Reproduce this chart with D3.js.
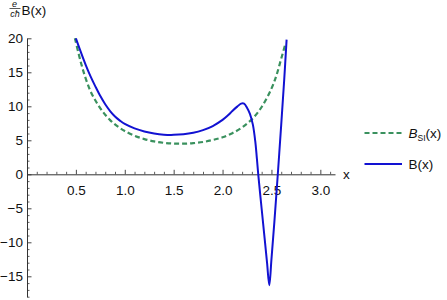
<!DOCTYPE html>
<html>
<head>
<meta charset="utf-8">
<script src="https://cdn.jsdelivr.net/npm/d3@7"></script>
<style>
  html, body { margin: 0; padding: 0; background: #fff; }
  svg { display: block; font-family: "Liberation Sans", Arial, sans-serif; }
</style>
</head>
<body>
<svg id="chart" width="447" height="300"></svg>
<script>
// ---- data ----
const bsiX = [0.49, 0.55, 0.6, 0.65, 0.7, 0.75, 0.8, 0.85, 0.9, 0.95, 1.0, 1.1, 1.2, 1.3, 1.4, 1.5, 1.6, 1.7, 1.8, 1.9, 2.0, 2.1, 2.2, 2.3, 2.4, 2.5, 2.55, 2.6, 2.645];
const bsiY = [20.0, 16.5, 14.1, 12.2, 10.85, 9.7, 8.75, 7.97, 7.33, 6.8, 6.36, 5.67, 5.18, 4.84, 4.63, 4.52, 4.5, 4.58, 4.75, 5.05, 5.45, 6.05, 6.9, 8.1, 9.9, 12.6, 14.5, 17.0, 19.3];

const bX = [0.5, 0.55, 0.6, 0.65, 0.7, 0.75, 0.8, 0.85, 0.9, 0.95, 1.0, 1.1, 1.2, 1.3, 1.4, 1.5, 1.6, 1.7, 1.8, 1.9, 2.0, 2.05, 2.1, 2.15, 2.19, 2.22, 2.25, 2.28, 2.31, 2.335, 2.35, 2.365, 2.4, 2.43, 2.455, 2.478, 2.5, 2.53, 2.565, 2.6, 2.63, 2.655];
const bY = [20.0, 18.0, 16.1, 14.4, 12.9, 11.5, 10.3, 9.3, 8.5, 7.9, 7.4, 6.75, 6.3, 6.0, 5.83, 5.8, 5.88, 6.1, 6.5, 7.1, 8.0, 8.6, 9.3, 9.95, 10.4, 10.4, 9.8, 8.9, 7.3, 4.8, 2.5, 0.0, -5.1, -9.4, -13.0, -16.3, -12.5, -7.0, 0.0, 7.3, 13.8, 19.8];

const xMajorTicks = [0.5, 1.0, 1.5, 2.0, 2.5, 3.0];
const xTickLabels = ["0.5", "1.0", "1.5", "2.0", "2.5", "3.0"];
const yMajorTicks = [-15, -10, -5, 0, 5, 10, 15, 20];
const yTickLabels = ["\u221215", "\u221210", "\u22125", "0", "5", "10", "15", "20"];
const xMinorTicks = d3.range(1, 32).map(i => i / 10).filter(v => Math.abs(v * 2 - Math.round(v * 2)) > 1e-6);
const yMinorTicks = d3.range(-18, 21).filter(v => v % 5 !== 0);

const legendLabels = ["SI", "B(x)"];

// ---- layout ----
const svg = d3.select("#chart");
const x = d3.scaleLinear().domain([0, 3.15]).range([27, 335]);
const y = d3.scaleLinear().domain([-18, 20]).range([296.7, 38.3]);

const axisColor = "#333";
const green = "#3a915e";
const blue = "#1212d2";

// clip
svg.append("defs").append("clipPath").attr("id", "clip")
  .append("rect").attr("x", x(0)).attr("y", y(20) - 1).attr("width", x(3.15) - x(0)).attr("height", y(-18) - y(20) + 1);

// x axis minor
svg.append("g").attr("transform", `translate(0,${y(0)})`)
  .call(d3.axisBottom(x).tickValues(xMinorTicks).tickSizeInner(-2.5).tickSizeOuter(0).tickFormat(""))
  .call(g => g.select(".domain").remove())
  .call(g => g.selectAll("line").attr("stroke", axisColor).attr("stroke-width", 0.8));
// x axis major
svg.append("g").attr("transform", `translate(0,${y(0)})`)
  .call(d3.axisBottom(x).tickValues(xMajorTicks).tickSizeInner(-4.5).tickSizeOuter(0).tickPadding(11)
    .tickFormat((d, i) => xTickLabels[i]))
  .call(g => g.select(".domain").attr("stroke", axisColor).attr("stroke-width", 1))
  .call(g => g.selectAll("line").attr("stroke", axisColor).attr("stroke-width", 0.9))
  .call(g => g.selectAll("text").attr("font-size", 13.5).attr("fill", "#111")
    .attr("font-family", "Liberation Sans, Arial, sans-serif"));

// y axis minor
svg.append("g").attr("transform", `translate(${x(0)},0)`)
  .call(d3.axisLeft(y).tickValues(yMinorTicks).tickSizeInner(-2.5).tickSizeOuter(0).tickFormat(""))
  .call(g => g.select(".domain").remove())
  .call(g => g.selectAll("line").attr("stroke", axisColor).attr("stroke-width", 0.8));
// y axis major
svg.append("g").attr("transform", `translate(${x(0)},0)`)
  .call(d3.axisLeft(y).tickValues(yMajorTicks).tickSizeInner(-4.5).tickSizeOuter(0).tickPadding(4)
    .tickFormat((d, i) => yTickLabels[i]))
  .call(g => g.select(".domain").attr("stroke", axisColor).attr("stroke-width", 1))
  .call(g => g.selectAll("line").attr("stroke", axisColor).attr("stroke-width", 0.9))
  .call(g => g.selectAll("text").attr("font-size", 13.5).attr("fill", "#111")
    .attr("font-family", "Liberation Sans, Arial, sans-serif"));

// axis labels
svg.append("text").attr("x", x(3.15) + 8).attr("y", y(0) + 5).attr("font-size", 13.5).attr("fill", "#111").text("x");

const yl = svg.append("g");
yl.append("text").attr("x", 14.5).attr("y", 6.5).attr("font-size", 9).attr("font-style", "italic")
  .attr("text-anchor", "middle").attr("fill", "#111").text("e");
yl.append("line").attr("x1", 9.5).attr("x2", 20.5).attr("y1", 8.5).attr("y2", 8.5).attr("stroke", "#111").attr("stroke-width", 0.7);
yl.append("text").attr("x", 15).attr("y", 16.5).attr("font-size", 9).attr("font-style", "italic")
  .attr("text-anchor", "middle").attr("fill", "#111").text("c\u0127");
yl.append("text").attr("x", 21.5).attr("y", 14.5).attr("font-size", 13.5).attr("fill", "#111").text("B(x)");

// curves
const line = d3.line().x(d => x(d[0])).y(d => y(d[1])).curve(d3.curveCatmullRom.alpha(0.5));
const plot = svg.append("g").attr("clip-path", "url(#clip)");
plot.append("path").datum(d3.zip(bsiX, bsiY)).attr("d", line)
  .attr("fill", "none").attr("stroke", green).attr("stroke-width", 2.2).attr("stroke-dasharray", "5,3");
plot.append("path").datum(d3.zip(bX, bY)).attr("d", line)
  .attr("fill", "none").attr("stroke", blue).attr("stroke-width", 2);

// legend
const lg = svg.append("g");
lg.append("line").attr("x1", 364.5).attr("x2", 402).attr("y1", 133).attr("y2", 133)
  .attr("stroke", green).attr("stroke-width", 2.2).attr("stroke-dasharray", "5,3");
const t1 = lg.append("text").attr("x", 408.5).attr("y", 138).attr("font-size", 13.5).attr("fill", "#111");
t1.append("tspan").attr("font-style", "italic").text("B");
t1.append("tspan").attr("font-size", 8.5).attr("dy", 3).text(legendLabels[0]);
t1.append("tspan").attr("dy", -3).text("(x)");
lg.append("line").attr("x1", 364.5).attr("x2", 402).attr("y1", 164).attr("y2", 164)
  .attr("stroke", blue).attr("stroke-width", 2);
lg.append("text").attr("x", 408.5).attr("y", 169).attr("font-size", 13.5).attr("fill", "#111").text(legendLabels[1]);
</script>
</body>
</html>
